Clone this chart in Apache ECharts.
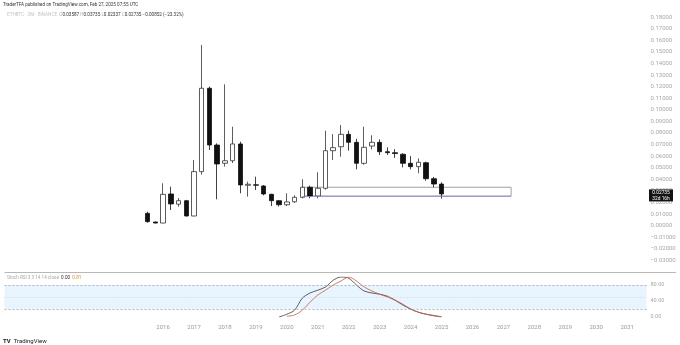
<!DOCTYPE html>
<html>
<head>
<meta charset="utf-8">
<script src="https://cdn.jsdelivr.net/npm/echarts@6/dist/echarts.min.js"></script>
<style>
html,body{margin:0;padding:0;background:#fff;}
#chart{width:680px;height:345px;}
</style>
</head>
<body>
<div id="chart"></div>
<script>
// ---- data (ETH/BTC, 3M candles) ----
const quarters = ['2015Q3','2015Q4','2016Q1','2016Q2','2016Q3','2016Q4','2017Q1','2017Q2','2017Q3','2017Q4',
  '2018Q1','2018Q2','2018Q3','2018Q4','2019Q1','2019Q2','2019Q3','2019Q4','2020Q1','2020Q2',
  '2020Q3','2020Q4','2021Q1','2021Q2','2021Q3','2021Q4','2022Q1','2022Q2','2022Q3','2022Q4',
  '2023Q1','2023Q2','2023Q3','2023Q4','2024Q1','2024Q2','2024Q3','2024Q4','2025Q1'];
const opens  = [0.0106,0.0031,0.0022,0.0273,0.0185,0.0215,0.0083,0.0466,0.1186,0.0696,
  0.0538,0.0560,0.0705,0.0348,0.0352,0.0342,0.0270,0.0215,0.0180,0.0206,
  0.0244,0.0331,0.0256,0.0322,0.0647,0.0681,0.0788,0.0719,0.0538,0.0687,
  0.0719,0.0638,0.0630,0.0616,0.0538,0.0509,0.0543,0.0405,0.03587];
const closes = [0.0034,0.0022,0.0270,0.0187,0.0215,0.0083,0.0466,0.1186,0.0696,0.0532,
  0.0560,0.0705,0.0351,0.0357,0.0349,0.0273,0.0215,0.0180,0.0204,0.0244,
  0.0331,0.0256,0.0322,0.0647,0.0673,0.0788,0.0719,0.0538,0.0676,0.0719,
  0.0638,0.0630,0.0622,0.0538,0.0509,0.0547,0.0405,0.0359,0.02735];
const lows   = [0.0025,0.0019,0.0020,0.0135,0.0163,0.0078,0.0080,0.0440,0.0653,0.0227,
  0.0509,0.0540,0.0279,0.0250,0.0307,0.0262,0.0169,0.0165,0.0169,0.0195,
  0.0235,0.0236,0.0236,0.0310,0.0567,0.0595,0.0647,0.0486,0.0525,0.0659,
  0.0610,0.0610,0.0585,0.0503,0.0486,0.0452,0.0388,0.0331,0.02337];
const highs  = [0.0120,0.0035,0.0365,0.0336,0.0238,0.0222,0.0567,0.1560,0.1200,0.0710,
  0.1220,0.0854,0.0725,0.0379,0.0422,0.0350,0.0275,0.0220,0.0279,0.0262,
  0.0400,0.0345,0.0460,0.0820,0.0790,0.0869,0.0820,0.0750,0.0854,0.0780,
  0.0745,0.0676,0.0660,0.0625,0.0600,0.0580,0.0552,0.0420,0.03735];

const stochQuarters = ['2019Q4','2020Q1','2020Q2','2020Q3','2020Q4','2021Q1','2021Q2','2021Q3','2021Q4','2022Q1',
  '2022Q2','2022Q3','2022Q4','2023Q1','2023Q2','2023Q3','2023Q4','2024Q1','2024Q2','2024Q3','2024Q4','2025Q1'];
const stochK = [0,7,17,47,60,67,75,92,100,97,80,65,60,57,52,42,30,20,12,7,3,0];
const stochD = [null,2,5,17,37,55,67,80,90,100,90,75,65,57,50,42,32,20,12,7,4,0.81];

const yearLabels = ['2016','2017','2018','2019','2020','2021','2022','2023','2024','2025',
  '2026','2027','2028','2029','2030','2031'];
const priceTicks = { min: -0.04, max: 0.19, step: 0.01 };
const stochTicks = { min: 0, max: 100, step: 40 };
const zoneTop = 0.0331, zoneBottom = 0.0256, zoneFrom = '2020Q3', zoneTo = '2027Q2';
const lastPrice = 0.02735;

// axis categories (quarters), including empty space before and after data
const axisCats = [];
for (let y = 2011; y <= 2031; y++) for (let q = 1; q <= 4; q++) axisCats.push(y + 'Q' + q);
axisCats.length = axisCats.indexOf('2031Q3') + 1;

const FONT = 'Roboto, "Liberation Sans", sans-serif';
const GL = 4.5, GR = 33.5;

const chart = echarts.init(document.getElementById('chart'), null, {renderer: 'canvas'});

const candleData = quarters.map((q, i) => [q, opens[i], closes[i], lows[i], highs[i]]);
const kData = stochQuarters.map((q, i) => [q, stochK[i]]);
const dData = stochQuarters.map((q, i) => [q, stochD[i]]).filter(d => d[1] !== null);

function fmtPrice(v) {
  const s = Math.abs(v).toFixed(5);
  return v < -1e-9 ? '\u2212' + s : s;
}

const option = {
  backgroundColor: '#ffffff',
  animation: false,
  grid: [
    {left: GL, right: GR, top: 5.6, height: 266.3},
    {left: GL, right: GR, top: 277, height: 40}
  ],
  xAxis: [
    {type: 'category', gridIndex: 0, data: axisCats, boundaryGap: true,
     axisLine: {show: false},
     axisTick: {show: false}, axisLabel: {show: false}, splitLine: {show: false}},
    {type: 'category', gridIndex: 1, data: axisCats, boundaryGap: true,
     axisLine: {show: false}, axisTick: {show: false}, splitLine: {show: false},
     axisLabel: {
       color: '#9a9a9a', fontSize: 6, fontFamily: FONT, margin: 7,
       interval: (idx, val) => val.endsWith('Q1') && yearLabels.includes(val.slice(0, 4)),
       formatter: v => v.slice(0, 4)
     }}
  ],
  yAxis: [
    {type: 'value', gridIndex: 0, position: 'right', min: priceTicks.min, max: priceTicks.max,
     interval: priceTicks.step, scale: false,
     axisLine: {show: false}, axisTick: {show: false}, splitLine: {show: false},
     axisLabel: {color: '#a8a8a8', fontSize: 6, fontFamily: FONT, margin: 4,
       showMinLabel: false, showMaxLabel: false, formatter: fmtPrice}},
    {type: 'value', gridIndex: 1, position: 'right', min: stochTicks.min, max: stochTicks.max,
     interval: stochTicks.step,
     axisLine: {show: false}, axisTick: {show: false}, splitLine: {show: false},
     axisLabel: {color: '#a8a8a8', fontSize: 5.5, fontFamily: FONT, margin: 4,
       showMaxLabel: false, formatter: v => v.toFixed(2)}}
  ],
  series: [
    {
      type: 'candlestick', xAxisIndex: 0, yAxisIndex: 0,
      data: candleData, encode: {x: 0, y: [1, 2, 3, 4]},
      barWidth: 5,
      itemStyle: {color: '#ffffff', color0: '#111111', borderColor: '#333333', borderColor0: '#111111', borderWidth: 0.8},
      markArea: {
        silent: true,
        itemStyle: {color: 'rgba(255,255,255,0)', borderColor: '#8a8a8a', borderWidth: 0.8},
        data: [[{xAxis: zoneFrom, yAxis: zoneTop}, {xAxis: zoneTo, yAxis: zoneBottom}]]
      },
      markLine: {
        silent: true, symbol: 'none', label: {show: false},
        lineStyle: {color: '#8080d8', width: 0.7, type: 'solid'},
        data: [[{xAxis: zoneFrom, yAxis: zoneBottom}, {xAxis: zoneTo, yAxis: zoneBottom}]]
      },
      z: 3
    },
    {
      type: 'line', xAxisIndex: 1, yAxisIndex: 1, data: kData, showSymbol: false, smooth: 0.3,
      lineStyle: {color: '#3a3a3a', width: 0.8},
      markArea: {
        silent: true, itemStyle: {color: 'rgba(33,150,243,0.1)'},
        data: [[{yAxis: 80}, {yAxis: 20}]]
      },
      markLine: {
        silent: true, symbol: 'none', label: {show: false},
        data: [
          {yAxis: 80, lineStyle: {color: '#a0a4ad', width: 0.8, type: [2, 2]}},
          {yAxis: 50, lineStyle: {color: '#c6cad2', width: 0.8, type: [1, 2]}},
          {yAxis: 20, lineStyle: {color: '#a0a4ad', width: 0.8, type: [2, 2]}}
        ]
      },
      z: 4
    },
    {
      type: 'line', xAxisIndex: 1, yAxisIndex: 1, data: dData, showSymbol: false, smooth: 0.3,
      lineStyle: {color: '#c85a3e', width: 0.8}, z: 4
    }
  ]
};
chart.setOption(option);

const py = chart.convertToPixel({yAxisIndex: 0}, lastPrice);
chart.setOption({
  graphic: [
    {type: 'line', shape: {x1: 4.5, y1: 272.5, x2: 676, y2: 272.5}, style: {stroke: '#b8b8b8', lineWidth: 1}, z: 10},
    {type: 'text', left: 3, top: 2.5, z: 10,
     style: {text: 'TraderTFA published on TradingView.com, Feb 27, 2025 07:55 UTC', fill: '#333', fontSize: 4.6, fontFamily: FONT}},
    {type: 'text', left: 7, top: 12.5, z: 10,
     style: {
       text: '{s|ETHBTC \u00b7 3M \u00b7 BINANCE}  {l|O}{v|0.03587} {l|H}{v|0.03735} {l|L}{v|0.02337} {l|C}{v|0.02735} {v|\u22120.00852 (\u221223.32%)}',
       fontFamily: FONT, fontSize: 4.6,
       rich: {s: {fill: '#c4c4c4', fontSize: 4.6, fontFamily: FONT},
              l: {fill: '#b0b0b0', fontSize: 4.6, fontFamily: FONT},
              v: {fill: '#333', fontSize: 4.6, fontFamily: FONT}}
     }},
    {type: 'text', left: 7, top: 275, z: 10,
     style: {
       text: '{s|Stoch RSI 3 3 14 14 close}  {k|0.00}  {d|0.81}',
       fontFamily: FONT, fontSize: 4.6,
       rich: {s: {fill: '#a8a8a8', fontSize: 4.6, fontFamily: FONT},
              k: {fill: '#333', fontSize: 4.6, fontFamily: FONT},
              d: {fill: '#e08a2c', fontSize: 4.6, fontFamily: FONT}}
     }},
    {type: 'rect', shape: {x: 649, y: py - 4.5, width: 24, height: 12}, style: {fill: '#131313'}, z: 20},
    {type: 'text', x: 661, y: py - 3.5, z: 21,
     style: {text: '0.02735\n32d 16h', fill: '#ffffff', fontSize: 4.8, fontFamily: FONT, align: 'center', lineHeight: 5.5}},
    {type: 'text', left: 3, top: 335, z: 10,
     style: {text: '{b|TV} {t|TradingView}', fontFamily: FONT,
       rich: {b: {fill: '#131722', fontSize: 6, fontWeight: 'bold', fontFamily: FONT},
              t: {fill: '#131722', fontSize: 6, fontFamily: FONT}}}}
  ]
});
</script>
</body>
</html>
